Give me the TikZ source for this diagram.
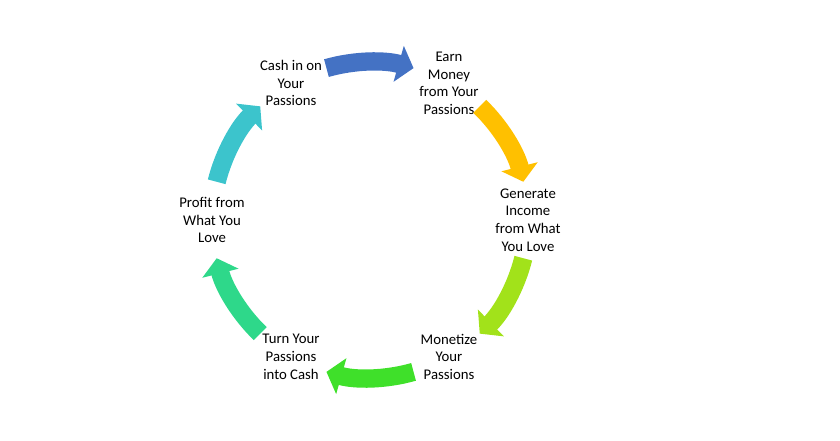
\documentclass[tikz,border=0pt]{standalone}
\usepackage{fontspec}
\setmainfont{Carlito}
\usetikzlibrary{arrows.meta}

\definecolor{cblue}{HTML}{4472C4}
\definecolor{cgold}{HTML}{FFC000}
\definecolor{clime}{HTML}{A2E21A}
\definecolor{cgreen}{HTML}{3FE02A}
\definecolor{cmint}{HTML}{2ED88A}
\definecolor{cteal}{HTML}{3CC4CC}

\begin{document}
\begin{tikzpicture}[%
        x = 0.025cm, y = 0.025cm,
        stage/.style = {%
            font = \fontsize{10.5}{12.5}\selectfont,
            align = center
        },
        cyclearrow/.style = {%
            line width = 13, draw = #1,
            -{Triangle[length = 11, width = 26]}
        }
    ]

        \useasboundingbox (-370, -220) rectangle (470, 220);

        % The labels around the cycle.
        \node[stage] (cash) at (120:158) {Cash in on\\Your\\Passions};
        \node[stage] (earn) at (60:158) {Earn\\Money\\from Your\\Passions};
        \node[stage] (gen) at (0:158) {Generate\\Income\\from What\\You Love};
        \node[stage] (mon) at (-60:158) {Monetize\\Your\\Passions};
        \node[stage] (turn) at (-120:158) {Turn Your\\Passions\\into Cash};
        \node[stage] (prof) at (180:158) {Profit from\\What You\\Love};

        % Curved arrows between the labels.
        \foreach \a/\c in {106/cblue, 46/cgold, -14/clime, -74/cgreen, -134/cmint, 166/cteal}{%
            \draw[cyclearrow = \c] (\a:158) arc[start angle = \a, delta angle = -32, radius = 158];
        }
    \end{tikzpicture}
\end{document}
